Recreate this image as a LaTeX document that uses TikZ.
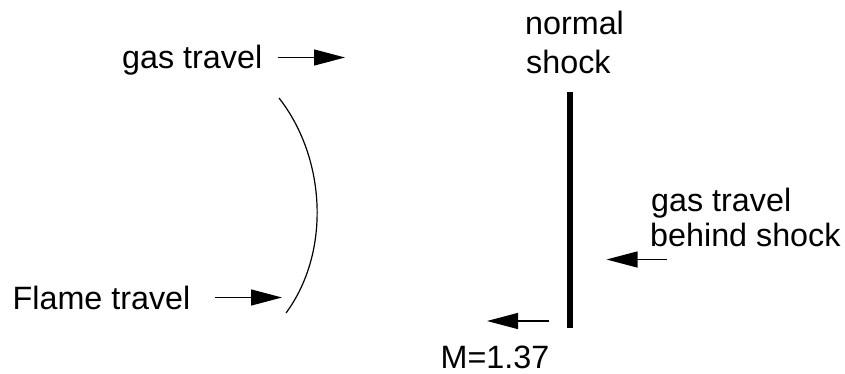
\documentclass[tikz,border=0pt]{standalone}
\usepackage{fontspec}
\setmainfont{Liberation Sans}
\usetikzlibrary{arrows.meta}
\begin{document}
\begin{tikzpicture}[x=1pt,y=-1pt,
  lbl/.style={anchor=base west,inner sep=0pt,font=\fontsize{32.3}{34}\selectfont},
  arr/.style={line width=1.3pt,-{Triangle[length=31pt,width=16pt]}},
  thin curve/.style={line width=1.2pt}]
\useasboundingbox (0,0) rectangle (845,374);
% labels
\node[lbl] (gas) at (122,69) {gas travel};
\node[lbl] (flame) at (12.5,309) {Flame travel};
\node[lbl] (normal) at (525,35) {normal};
\node[lbl] (shock) at (526,74) {shock};
\node[lbl] (gas2) at (651,211.5) {gas travel};
\node[lbl] (behind) at (650,246) {behind shock};
\node[lbl] (mach) at (440.5,368) {M=1.37};
% arrow end points
\coordinate (a1s) at (278,57.5);
\coordinate (a1e) at (345,57.5);
\coordinate (a2s) at (215,297.5);
\coordinate (a2e) at (282,297.5);
\coordinate (a3s) at (667,259.5);
\coordinate (a3e) at (606.5,259.5);
\coordinate (a4s) at (549,321);
\coordinate (a4e) at (487,321);
\draw[arr] (a1s) -- (a1e);
\draw[arr] (a2s) -- (a2e);
\draw[arr] (a3s) -- (a3e);
\draw[arr] (a4s) -- (a4e);
% flame front
\coordinate (ft) at (279,98);
\coordinate (fb) at (286,313);
\draw[thin curve] (ft) .. controls (326,158) and (331,252) .. (fb);
% normal shock
\coordinate (st) at (569.5,92.5);
\coordinate (sb) at (569.5,328);
\draw[line width=6pt] (st) -- (sb);
\end{tikzpicture}
\end{document}
